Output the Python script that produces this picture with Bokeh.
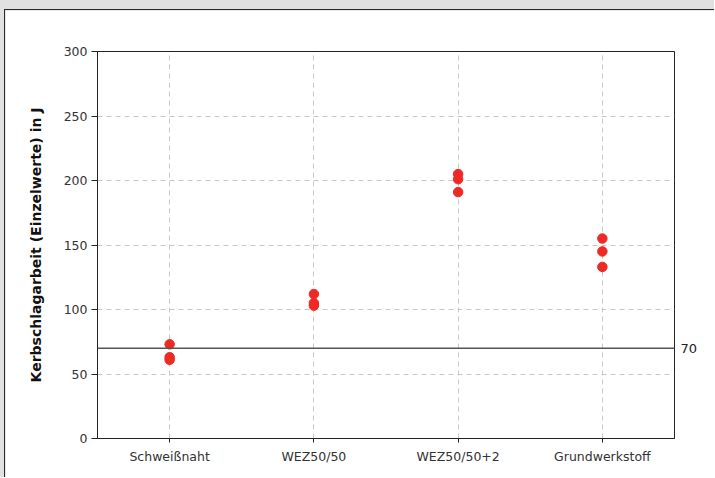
from bokeh.plotting import figure
from bokeh.layouts import column
from bokeh.models import ColumnDataSource, Span, LinearAxis, FixedTicker, Range1d
from bokeh.embed import file_html
from bokeh.resources import INLINE

categories = ["Schweißnaht", "WEZ50/50", "WEZ50/50+2", "Grundwerkstoff"]
point_cats = ["Schweißnaht"] * 3 + ["WEZ50/50"] * 3 + ["WEZ50/50+2"] * 3 + ["Grundwerkstoff"] * 3
point_vals = [73, 63, 61, 112, 105, 103, 205, 201, 191, 155, 145, 133]
threshold = 70
y_ticks = [0, 50, 100, 150, 200, 250, 300]

FONT = "DejaVu Sans"

p = figure(
    x_range=categories, y_range=Range1d(0, 300),
    width=710, height=468,
    output_backend="svg", toolbar_location=None,
    min_border_left=92, min_border_right=41, min_border_top=41, min_border_bottom=40,
)
p.background_fill_color = "white"
p.border_fill_color = "white"
p.outline_line_color = "#222222"
p.outline_line_width = 1
p.styles = {"border-top": "1px solid #2a2a2a", "border-left": "1px solid #2a2a2a"}

src = ColumnDataSource(dict(cat=point_cats, val=point_vals))
p.scatter("cat", "val", source=src, size=9.5, color="#ee2a24", line_color="#ee2a24")

span = Span(location=threshold, dimension="width", line_color="#555555", line_width=1.5)
p.add_layout(span)

# grids
p.xgrid.grid_line_color = "#c8c8c8"
p.xgrid.grid_line_dash = "5 4"
p.ygrid.grid_line_color = "#c8c8c8"
p.ygrid.grid_line_dash = "5 4"
p.yaxis.ticker = FixedTicker(ticks=y_ticks)

# axes
p.yaxis.axis_label = "Kerbschlagarbeit (Einzelwerte) in J"
p.yaxis.axis_label_text_font = FONT
p.yaxis.axis_label_text_font_style = "bold"
p.yaxis.axis_label_text_font_size = "14px"
p.yaxis.axis_label_text_color = "#111111"
p.yaxis.axis_label_standoff = 17
for ax in (p.xaxis[0], p.yaxis[0]):
    ax.major_label_text_font = FONT
    ax.major_label_text_font_size = "12.5px"
    ax.major_label_text_color = "#333333"
    ax.axis_line_color = "#222222"
    ax.major_tick_line_color = "#222222"
    ax.minor_tick_line_color = None
    ax.major_tick_in = 0
p.yaxis.major_tick_out = 6
p.xaxis.major_tick_out = 4
p.xaxis.major_label_standoff = 6
p.yaxis.major_label_standoff = 4

right = LinearAxis(ticker=FixedTicker(ticks=[threshold]))
right.axis_line_color = None
right.major_tick_line_color = None
right.minor_tick_line_color = None
right.major_tick_out = 0
right.major_tick_in = 0
right.major_label_text_font = FONT
right.major_label_text_font_size = "13px"
right.major_label_text_color = "#222222"
right.major_label_standoff = 6
p.add_layout(right, "right")

page = column(p, styles={"background-color": "#e1e1e1", "padding-top": "9px", "padding-left": "4px"})

open("out.html", "w").write(file_html(page, INLINE))
